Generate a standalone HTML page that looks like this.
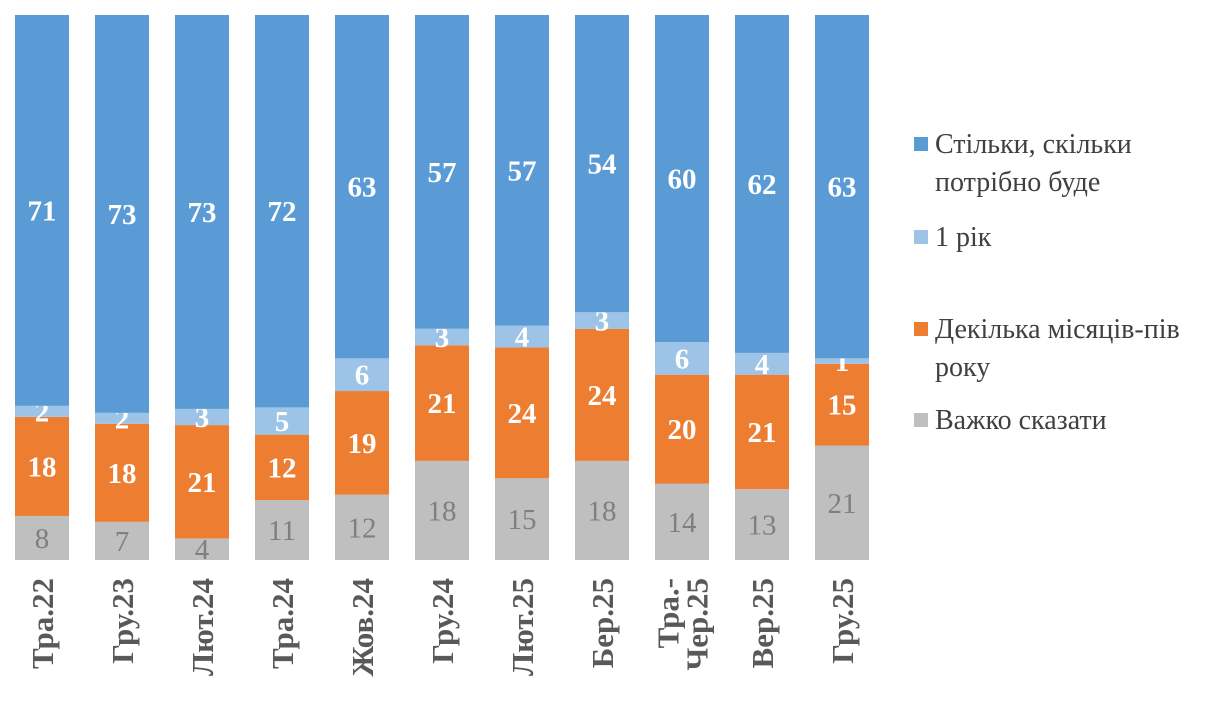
<!DOCTYPE html>
<html><head><meta charset="utf-8"><style>
body{margin:0;background:#fff;width:1230px;height:715px;overflow:hidden}
svg text{font-family:"Liberation Serif",serif}
</style></head><body>
<svg id="c" width="1230" height="715"></svg>
<script>
const categories=["Тра.22","Гру.23","Лют.24","Тра.24","Жов.24","Гру.24","Лют.25","Бер.25","Тра.-|Чер.25","Вер.25","Гру.25"];
const hard=[8,7,4,11,12,18,15,18,14,13,21];
const months=[18,18,21,12,19,21,24,24,20,21,15];
const year=[2,2,3,5,6,3,4,3,6,4,1];
const needed=[71,73,73,72,63,57,57,54,60,62,63];
const seriesNames=["Стільки, скільки|потрібно буде","1 рік","Декілька місяців-пів|року","Важко сказати"];
const NS="http://www.w3.org/2000/svg";
const svg=document.getElementById('c');
const x0=15,step=80,bw=54,yb=560,yt=15;
function el(t,a,p){const e=document.createElementNS(NS,t);for(const k in a)e.setAttribute(k,a[k]);(p||svg).appendChild(e);return e;}
const series=[[hard,"#BFBFBF","#7f7f7f","normal","hard"],[months,"#ED7D31","#fff","bold","months"],[year,"#9DC3E6","#fff","bold","year"],[needed,"#5B9BD5","#fff","bold","needed"]];
categories.forEach((c,i)=>{
  const tot=hard[i]+months[i]+year[i]+needed[i];
  const k=(yb-yt)/tot;
  let y=yb;
  const x=x0+i*step;
  series.forEach(s=>{
    const v=s[0][i],h=v*k;
    const r=el('rect',{x:x,y:y-h,width:bw,height:h,fill:s[1]});
    
    
    const t=el('text',{x:x+bw/2,y:y-h/2+10,'text-anchor':'middle','font-size':29,fill:s[2],'font-weight':s[3]});
    t.textContent=v;
    
    
    y-=h;
  });
  const lines=c.split('|');
  const cx=x+bw/2;
  lines.forEach((ln,j)=>{
    const off=(j-(lines.length-1)/2)*29+11;
    const t=el('text',{x:0,y:0,transform:`translate(${cx+off},578) rotate(-90)`,'text-anchor':'end','font-size':31,'font-weight':'bold',fill:'#595959'});
    t.textContent=ln;
    
    
  });
});
const legY=[144,237,329,420];
const legC=["#5B9BD5","#9DC3E6","#ED7D31","#BFBFBF"];
seriesNames.forEach((n,i)=>{
  const r=el('rect',{x:914,y:legY[i]-7,width:14,height:14,fill:legC[i]});
  
  
  n.split('|').forEach((ln,j)=>{
    const t=el('text',{x:935,y:legY[i]+9+j*38,'font-size':28,fill:'#404040'});
    t.textContent=ln;
    
    
  });
});
</script>
</body></html>
